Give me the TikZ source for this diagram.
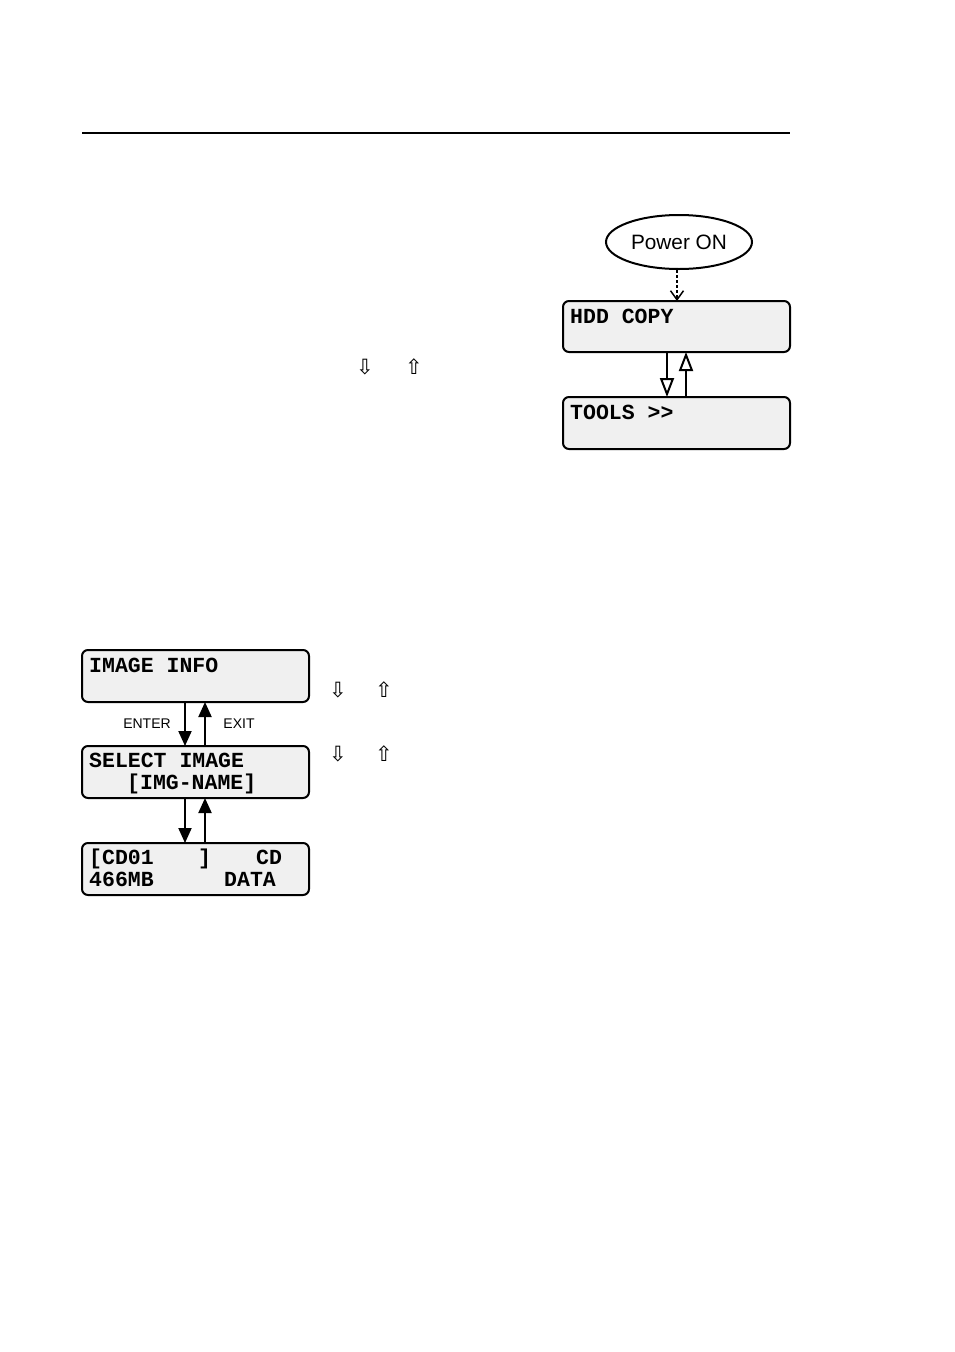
\documentclass[tikz,border=0pt]{standalone}
\usepackage{fontspec}
\setmainfont{Liberation Sans}
\newfontfamily\lcdfont{Liberation Mono}
\newfontfamily\symfont{DejaVu Sans}
\usetikzlibrary{arrows.meta,shapes.geometric}
\definecolor{lcdfill}{HTML}{F0F0F0}
\begin{document}
\begin{tikzpicture}[x=1pt,y=-1pt,
  lcd/.style={draw=black,line width=2pt,rounded corners=6pt,fill=lcdfill},
  lcdtext/.style={anchor=base west,inner sep=0pt,font=\lcdfont\bfseries\fontsize{21.5}{24}\selectfont},
  keyarrow/.style={anchor=center,inner sep=0pt,font=\symfont\fontsize{21}{22}\selectfont},
  lbl/.style={anchor=center,inner sep=0pt,font=\fontsize{14}{16}\selectfont},
  openarr/.style={line width=2pt,-{Triangle[open,length=19pt,width=14pt,line width=2pt]}},
  fillarr/.style={line width=2pt,-{Triangle[length=15pt,width=13pt]}}
]
\useasboundingbox (0,0) rectangle (954,1352);
% top rule
\coordinate (ruleL) at (82,133);
\coordinate (ruleR) at (790,133);
\draw[line width=2pt] (ruleL) -- (ruleR);

% top-right flow
\node[draw,line width=2pt,ellipse,minimum width=146pt,minimum height=54pt,inner sep=0pt,
  font=\fontsize{20.8}{23}\selectfont] (power) at (679,242) {Power ON};
\draw[lcd] (563,301) rectangle (790,352);
\coordinate (hddtop) at (677,301);
\node[lcdtext] (hdd) at (570,323) {HDD COPY};
\draw[lcd] (563,397) rectangle (790,449);
\node[lcdtext] (tools) at (570,419) {TOOLS >>};
\draw[line width=1.5pt,dash pattern=on 3pt off 2pt,-{Straight Barb[length=9pt,width=13pt,line width=1.5pt]}] (power.south -| hddtop) -- (hddtop);
\coordinate (d1a) at (667,352);
\coordinate (d1b) at (667,397);
\coordinate (u1a) at (686,397);
\coordinate (u1b) at (686,352);
\draw[openarr] (d1a) -- (d1b);
\draw[openarr] (u1a) -- (u1b);

% key arrows
\node[keyarrow] (k1d) at (365,367) {⇩};
\node[keyarrow] (k1u) at (414,367) {⇧};
\node[keyarrow] (k2d) at (338,690) {⇩};
\node[keyarrow] (k2u) at (384,690) {⇧};
\node[keyarrow] (k3d) at (338,754) {⇩};
\node[keyarrow] (k3u) at (384,754) {⇧};

% bottom-left flow
\draw[lcd] (82,650) rectangle (309,702);
\node[lcdtext] (info) at (89,672) {IMAGE INFO};
\draw[lcd] (82,746) rectangle (309,798);
\node[lcdtext] (sel1) at (89,767) {SELECT IMAGE};
\node[lcdtext] (sel2) at (127,789) {[IMG-NAME]};
\draw[lcd] (82,843) rectangle (309,895);
\node[lcdtext] (cd1) at (89,864) {[CD01};
\node[lcdtext] (cd2) at (198,864) {]};
\node[lcdtext] (cd3) at (256,864) {CD};
\node[lcdtext] (cd4) at (89,886) {466MB};
\node[lcdtext] (cd5) at (224,886) {DATA};

\coordinate (a1) at (185,702);
\coordinate (a2) at (185,746);
\coordinate (b1) at (205,746);
\coordinate (b2) at (205,702);
\draw[fillarr] (a1) -- (a2);
\draw[fillarr] (b1) -- (b2);
\coordinate (c1) at (185,798);
\coordinate (c2) at (185,843);
\coordinate (e1) at (205,843);
\coordinate (e2) at (205,798);
\draw[fillarr] (c1) -- (c2);
\draw[fillarr] (e1) -- (e2);
\node[lbl] (enter) at (147,724) {ENTER};
\node[lbl] (exit) at (239,724) {EXIT};
\end{tikzpicture}
\end{document}
